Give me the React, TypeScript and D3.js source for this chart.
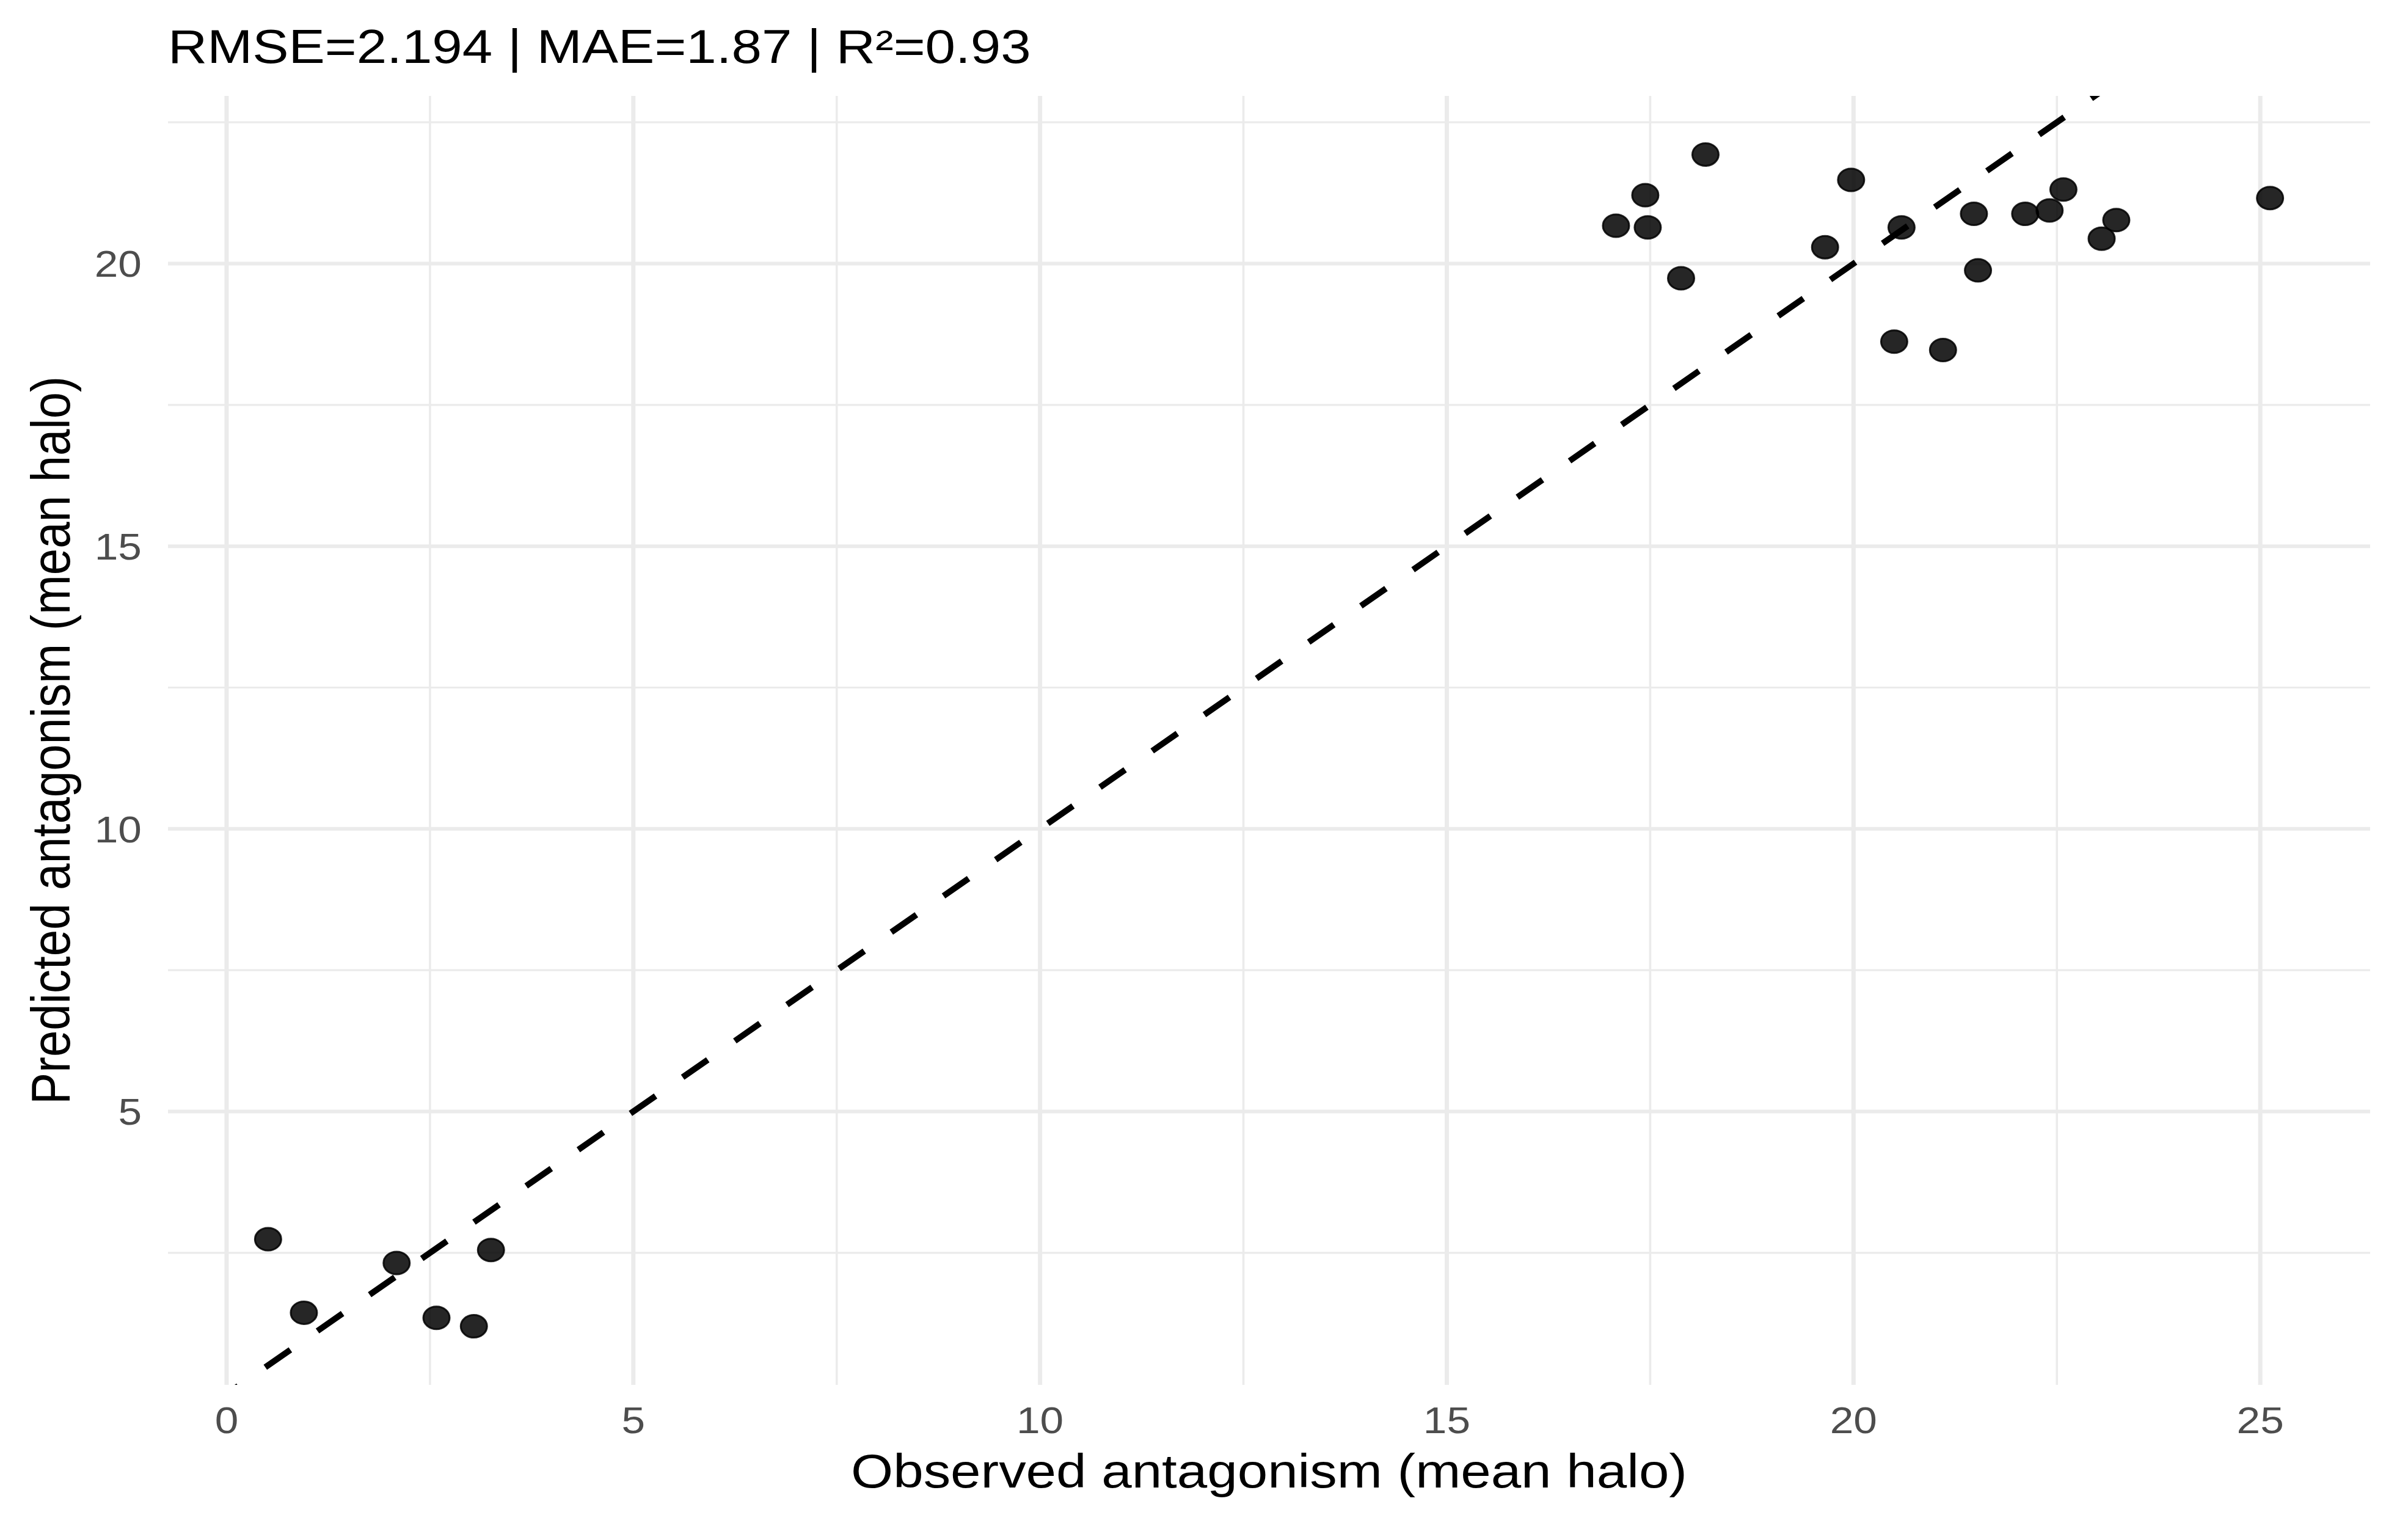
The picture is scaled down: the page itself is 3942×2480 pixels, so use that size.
// App.tsx
// Observed vs predicted antagonism scatter with a y = x reference line

import React from "react"
import * as d3 from "d3"

// Data
const observed = [
    0.51, 0.95, 2.09, 2.58, 3.04, 3.25,
    17.08, 17.44, 17.47, 17.88, 18.18, 19.65, 19.97, 20.5, 20.59, 21.1,
    21.48, 21.53, 22.11, 22.41, 22.58, 23.05, 23.23, 25.12,
]
const predicted = [
    2.74, 1.44, 2.32, 1.35, 1.2, 2.55,
    20.67, 21.21, 20.64, 19.74, 21.93, 20.29, 21.48, 18.62, 20.64, 18.47,
    20.88, 19.88, 20.88, 20.94, 21.31, 20.44, 20.77, 21.16,
]
const xTicks = [0, 5, 10, 15, 20, 25]
const yTicks = [5, 10, 15, 20]
const xMinor = [2.5, 7.5, 12.5, 17.5, 22.5]
const yMinor = [2.5, 7.5, 12.5, 17.5, 22.5]

const titleText = "RMSE=2.194 | MAE=1.87 | R²=0.93"
const xLabel = "Observed antagonism (mean halo)"
const yLabel = "Predicted antagonism (mean halo)"

// Layout
const W = 3942
const H = 2480
const panel = { left: 275, right: 3880, top: 157, bottom: 2267 }
const sx = 1.12 // the source picture is a little stretched sideways
const font = "'Liberation Sans', Arial, Helvetica, sans-serif"

// ggplot-like 5% expansion
const expand = (v: number[]): [number, number] => {
    const [a, b] = d3.extent(v) as [number, number]
    const pad = (b - a) * 0.05
    return [a - pad, b + pad]
}

export default function App() {
    const x = d3.scaleLinear().domain(expand(observed)).range([panel.left, panel.right])
    const y = d3.scaleLinear().domain(expand(predicted)).range([panel.bottom, panel.top])
    const [x0, x1] = x.domain()

    const points = observed.map((o, i) => ({ o, p: predicted[i] }))
    const cx = (panel.left + panel.right) / 2
    const cy = (panel.top + panel.bottom) / 2

    return (
        <svg
            width={W}
            height={H}
            viewBox={`0 0 ${W} ${H}`}
            style={{ position: "absolute", left: 0, top: 0, background: "#fff" }}
        >
            <defs>
                <clipPath id="panel-clip">
                    <rect x={panel.left} y={panel.top} width={panel.right - panel.left} height={panel.bottom - panel.top} />
                </clipPath>
            </defs>
            <rect width={W} height={H} fill="#fff" />

            {/* grid */}
            <g stroke="#EBEBEB" fill="none">
                {yMinor.map((t) => (
                    <line key={"ym" + t} x1={panel.left} x2={panel.right} y1={y(t)} y2={y(t)} strokeWidth={3.2} />
                ))}
                {xMinor.map((t) => (
                    <line key={"xm" + t} x1={x(t)} x2={x(t)} y1={panel.top} y2={panel.bottom} strokeWidth={3.6} />
                ))}
                {yTicks.map((t) => (
                    <line key={"y" + t} x1={panel.left} x2={panel.right} y1={y(t)} y2={y(t)} strokeWidth={6} />
                ))}
                {xTicks.map((t) => (
                    <line key={"x" + t} x1={x(t)} x2={x(t)} y1={panel.top} y2={panel.bottom} strokeWidth={7} />
                ))}
            </g>

            {/* points */}
            <g>
                {points.map((d, i) => (
                    <ellipse
                        key={i}
                        cx={x(d.o)}
                        cy={y(d.p)}
                        rx={21.5}
                        ry={18.5}
                        fill="#000"
                        fillOpacity={0.85}
                        stroke="#000"
                        strokeOpacity={0.85}
                        strokeWidth={3}
                    />
                ))}
            </g>

            {/* y = x line */}
            <line
                x1={x(x0)}
                y1={y(x0)}
                x2={x(x1)}
                y2={y(x1)}
                stroke="#000"
                strokeWidth={10}
                strokeDasharray="50 54"
                strokeDashoffset={14}
                clipPath="url(#panel-clip)"
            />

            {/* axis tick labels */}
            <g fontFamily={font} fontSize={62} fill="#4D4D4D">
                {xTicks.map((t) => (
                    <text key={"xt" + t} transform={`translate(${x(t)},2346) scale(${sx},1)`} textAnchor="middle">
                        {t}
                    </text>
                ))}
                {yTicks.map((t) => (
                    <text key={"yt" + t} transform={`translate(232,${y(t) + 22}) scale(${sx},1)`} textAnchor="end">
                        {t}
                    </text>
                ))}
            </g>

            {/* titles */}
            <g fontFamily={font} fontSize={78} fill="#000">
                <text transform={`translate(${panel.left},103) scale(1.14,1)`}>{titleText}</text>
                <text transform={`translate(${cx},2435) scale(1.14,1)`} textAnchor="middle">
                    {xLabel}
                </text>
                <text transform={`translate(114,${cy}) scale(1.14,1) rotate(-90)`} textAnchor="middle">
                    {yLabel}
                </text>
            </g>
        </svg>
    )
}
